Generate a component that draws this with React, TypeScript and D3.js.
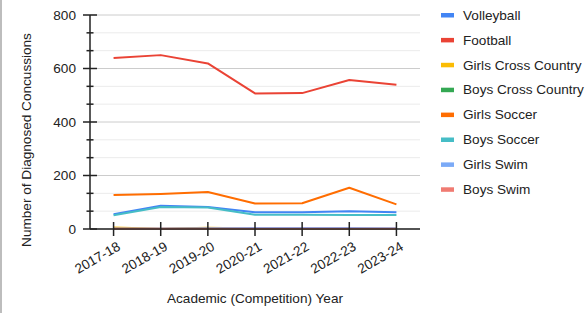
import React from "react";
import * as d3 from "d3";

const years = ["2017-18", "2018-19", "2019-20", "2020-21", "2021-22", "2022-23", "2023-24"];
const seriesNames = [
  "Volleyball",
  "Football",
  "Girls Cross Country",
  "Boys Cross Country",
  "Girls Soccer",
  "Boys Soccer",
  "Girls Swim",
  "Boys Swim",
];
const seriesColors = ["#4285f4", "#ea4335", "#fbbc04", "#34a853", "#ff6d01", "#46bdc6", "#7baaf7", "#f07b72"];
const volleyball = [55, 87, 82, 63, 63, 66, 63];
const football = [639, 650, 619, 507, 508, 557, 539];
const girlsCrossCountry = [6, 1, 5, 2, 1, 1, 1];
const boysCrossCountry = [0, 0, 1, 0, 0, 0, 0];
const girlsSoccer = [127, 131, 138, 95, 96, 154, 92];
const boysSoccer = [51, 82, 80, 53, 53, 52, 52];
const girlsSwim = [2, 2, 3, 4, 4, 4, 3];
const boysSwim = [1, 1, 1, 1, 1, 1, 1];
const seriesValues = [volleyball, football, girlsCrossCountry, boysCrossCountry, girlsSoccer, boysSoccer, girlsSwim, boysSwim];
const majorTicks = [0, 200, 400, 600, 800];
const yTitle = "Number of Diagnosed Concussions";
const xTitle = "Academic (Competition) Year";

const W = 588;
const H = 313;
const left = 90;
const right = 420;
const top = 15;
const bottom = 229;
const FONT = "'Liberation Sans', Arial, sans-serif";
const FS = 13.6;

export default function App() {
  const x = d3.scalePoint<string>().domain(years).range([left, right]).padding(0.5);
  const y = d3.scaleLinear().domain([0, 800]).range([bottom, top]);
  const minorTicks = d3.range(0, 801, 200 / 3).filter((v) => !majorTicks.some((m) => Math.abs(m - v) < 1));
  const line = d3
    .line<number>()
    .x((_, i) => x(years[i]) as number)
    .y((d) => y(d));

  return (
    <svg width={W} height={H} style={{ position: "absolute", left: 0, top: 0, background: "#fff" }}>
      <rect x={0} y={0} width={W} height={H} fill="#fff" />
      <line x1={1} x2={1} y1={0} y2={H} stroke="#bdbdbd" strokeWidth={2} />
      {/* gridlines */}
      {minorTicks.map((t) => (
        <line key={"mg" + t} x1={left} x2={right} y1={y(t)} y2={y(t)} stroke="#ebebeb" strokeWidth={1} />
      ))}
      {majorTicks.map((t) => (
        <line key={"g" + t} x1={left} x2={right} y1={y(t)} y2={y(t)} stroke="#cccccc" strokeWidth={1} />
      ))}
      {/* series lines */}
      {seriesValues.map((vals, i) => (
        <path key={seriesNames[i]} d={line(vals) as string} fill="none" stroke={seriesColors[i]} strokeWidth={2} strokeLinejoin="round" />
      ))}
      {/* axes */}
      <line x1={left} x2={right} y1={bottom} y2={bottom} stroke="#222" strokeWidth={1.5} />
      <line x1={left} x2={left} y1={top} y2={bottom} stroke="#222" strokeWidth={1.5} />
      {majorTicks.map((t) => (
        <line key={"mt" + t} x1={left - 7} x2={left + 7} y1={y(t)} y2={y(t)} stroke="#222" strokeWidth={1.5} />
      ))}
      {minorTicks.map((t) => (
        <line key={"nt" + t} x1={left - 3.5} x2={left + 3.5} y1={y(t)} y2={y(t)} stroke="#222" strokeWidth={1.5} />
      ))}
      {years.map((yr) => (
        <line key={"xt" + yr} x1={x(yr)} x2={x(yr)} y1={bottom - 7} y2={bottom + 7} stroke="#222" strokeWidth={1.5} />
      ))}
      {/* y tick labels */}
      {majorTicks.map((t) => (
        <text key={"yl" + t} x={76} y={y(t)} dy="0.35em" textAnchor="end" fontFamily={FONT} fontSize={FS} fill="#222">
          {t}
        </text>
      ))}
      {/* x tick labels */}
      {years.map((yr) => (
        <text
          key={"xl" + yr}
          transform={`translate(${(x(yr) as number) + 6},${bottom + 17}) rotate(-30)`}
          textAnchor="end"
          dominantBaseline="middle"
          fontFamily={FONT}
          fontSize={FS}
          fill="#222"
        >
          {yr}
        </text>
      ))}
      {/* axis titles */}
      <text x={(left + right) / 2} y={303} textAnchor="middle" fontFamily={FONT} fontSize={FS} fill="#222">
        {xTitle}
      </text>
      <text
        transform={`translate(31,140) rotate(-90)`}
        textAnchor="middle"
        fontFamily={FONT}
        fontSize={FS}
        fill="#222"
      >
        {yTitle}
      </text>
      {/* legend */}
      {seriesNames.map((name, i) => (
        <g key={"lg" + name} transform={`translate(441,${15 + i * 24.9})`}>
          <rect x={0} y={-2} width={13} height={4.5} fill={seriesColors[i]} />
          <text x={22} y={0} dy="0.35em" fontFamily={FONT} fontSize={FS} fill="#222">
            {name}
          </text>
        </g>
      ))}
    </svg>
  );
}
